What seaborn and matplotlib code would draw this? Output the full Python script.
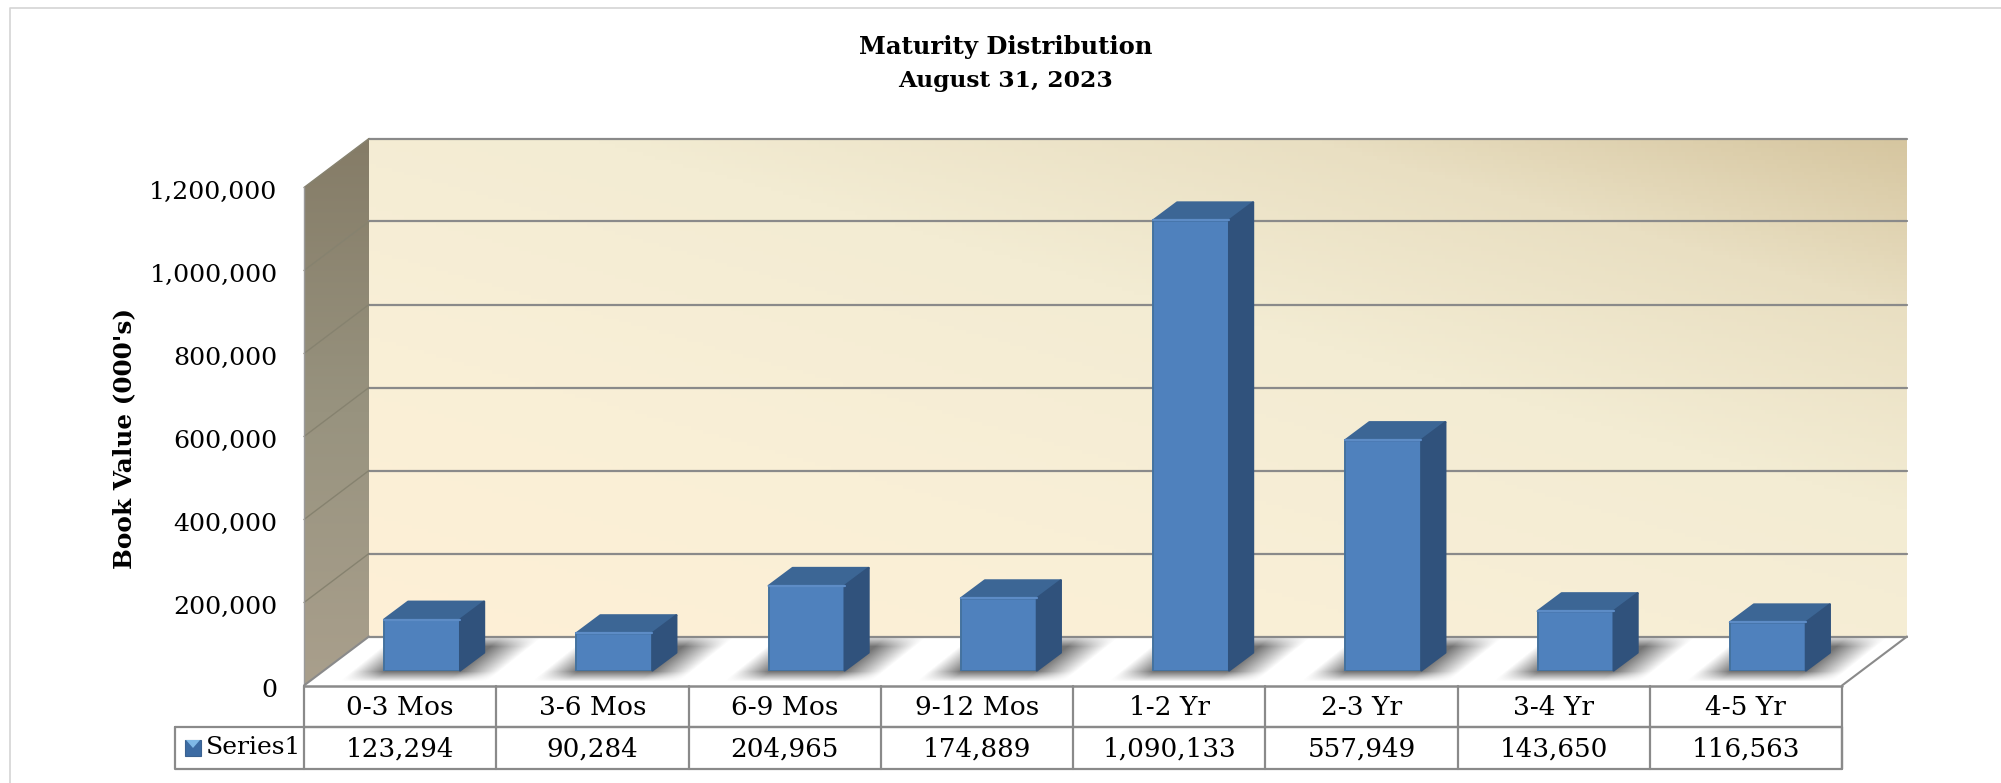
import numpy as np
import seaborn as sns
import matplotlib.pyplot as plt
from matplotlib.colors import LinearSegmentedColormap
from matplotlib.patches import Polygon, Rectangle
from matplotlib.transforms import ScaledTranslation

categories = ["0-3 Mos", "3-6 Mos", "6-9 Mos", "9-12 Mos", "1-2 Yr", "2-3 Yr", "3-4 Yr", "4-5 Yr"]
book_values = [123294, 90284, 204965, 174889, 1090133, 557949, 143650, 116563]
value_labels = ["123,294", "90,284", "204,965", "174,889", "1,090,133", "557,949", "143,650", "116,563"]
y_ticks = [0, 200000, 400000, 600000, 800000, 1000000, 1200000]
series_name = "Series1"

W, H = 2001, 783
LEFT, RIGHT, BASE, TOP = 304, 1842, 685.5, 187.5  # front plane of the chart box
DEPTH_X, DEPTH_Y = 65, 49                         # how far the back wall sits behind it
BAR_DX, BAR_DY = 22, 15                           # bars stand a bit inside the floor
SIDE_X, SIDE_Y = 24, 18                           # depth of a single bar
ROW1, ROW2 = 727, 769
LEGEND_LEFT = 175
GREY = "#8a8a8a"

sns.set_theme(style="white")
plt.rcParams["font.family"] = ["DejaVu Serif"]


def px_axes(fig, x0, y0, x1, y1, **kw):
    return fig.add_axes([x0 / W, 1 - y1 / H, (x1 - x0) / W, (y1 - y0) / H], **kw)


fig = plt.figure(figsize=(W / 100, H / 100), dpi=100, facecolor="white")

# pixel canvas for walls, floor, table
bg = fig.add_axes([0, 0, 1, 1], zorder=0)
bg.set_xlim(0, W)
bg.set_ylim(H, 0)
bg.axis("off")

xx, yy = np.meshgrid(np.arange(LEFT, W, 4.0), np.arange(100, 700, 4.0))
extent = (xx.min(), xx.max(), yy.max(), yy.min())

wall_cmap = LinearSegmentedColormap.from_list(
    "wall", [(0, "#feefd6"), (0.32, "#f9efd7"), (0.6, "#f3ecd3"), (0.82, "#e9dfc2"), (1, "#d6c6a0")])
t = ((xx - LEFT - DEPTH_X) / (RIGHT - LEFT) * 0.7 + (BASE - DEPTH_Y - yy) / (BASE - TOP) * 0.8) / 1.5
im = bg.imshow(np.clip(t, 0, 1), cmap=wall_cmap, vmin=0, vmax=1, extent=extent, aspect="auto", zorder=1)
back = Polygon([(LEFT + DEPTH_X, TOP - DEPTH_Y), (RIGHT + DEPTH_X, TOP - DEPTH_Y),
                (RIGHT + DEPTH_X, BASE - DEPTH_Y), (LEFT + DEPTH_X, BASE - DEPTH_Y)],
               transform=bg.transData, fill=False, lw=0)
bg.add_patch(back)
im.set_clip_path(back)

side_cmap = LinearSegmentedColormap.from_list("side", ["#a99f8c", "#98937f", "#857c67"])
xs, ys = np.meshgrid(np.arange(LEFT, LEFT + DEPTH_X + 4, 2.0), np.arange(130, 700, 4.0))
t2 = (BASE - ys) / (BASE - TOP + DEPTH_Y)
im2 = bg.imshow(np.clip(t2, 0, 1), cmap=side_cmap, vmin=0, vmax=1,
                extent=(LEFT, LEFT + DEPTH_X + 2, ys.max(), ys.min()), aspect="auto", zorder=1)
side = Polygon([(LEFT, TOP), (LEFT + DEPTH_X, TOP - DEPTH_Y), (LEFT + DEPTH_X, BASE - DEPTH_Y), (LEFT, BASE)],
               transform=bg.transData, fill=False, lw=0)
bg.add_patch(side)
im2.set_clip_path(side)
bg.set_xlim(0, W)
bg.set_ylim(H, 0)

floor_pts = [(LEFT, BASE), (LEFT + DEPTH_X, BASE - DEPTH_Y), (RIGHT + DEPTH_X, BASE - DEPTH_Y), (RIGHT, BASE)]
floor = Polygon(floor_pts, closed=True, facecolor="white", edgecolor="none", zorder=2)
bg.add_patch(floor)

# axes with the tick labels, grid and box lines, sits on the front plane
frame = px_axes(fig, LEFT, TOP, RIGHT, BASE, zorder=1)
frame.patch.set_alpha(0)
frame.set_xlim(0, len(categories))
frame.set_ylim(0, max(y_ticks))
for s in frame.spines.values():
    s.set_visible(False)
frame.set_xticks([])
frame.set_yticks(y_ticks)
frame.set_yticklabels([f"{v:,}" for v in y_ticks], fontsize=18.2, color="black")
frame.tick_params(axis="y", length=0, pad=19)
for lbl in frame.get_yticklabels():
    lbl.set_transform(lbl.get_transform() + ScaledTranslation(0, -2.5 / 100, fig.dpi_scale_trans))
frame.set_ylabel("Book Value (000's)", fontsize=17.8, fontweight="bold", color="black")
frame.yaxis.set_label_coords((136 - LEFT) / (RIGHT - LEFT), 0.497)

dx = DEPTH_X / (RIGHT - LEFT) * len(categories)
dv = DEPTH_Y / (BASE - TOP) * max(y_ticks)
n = len(categories)
for v in y_ticks:
    frame.plot([dx, n + dx], [v + dv, v + dv], color=GREY, lw=1.6, clip_on=False, zorder=3)
    if v > 0:
        frame.plot([0, dx], [v, v + dv], color="#86826f", lw=1.0, clip_on=False, zorder=3)
frame.plot([0, 0], [0, max(y_ticks)], color="#9a9a9a", lw=1.0, clip_on=False, zorder=3)
frame.plot([0, dx], [0, dv], color=GREY, lw=1.5, clip_on=False, zorder=3)
frame.plot([n, n + dx], [0, dv], color=GREY, lw=1.5, clip_on=False, zorder=3)
frame.plot([0, n], [0, 0], color=GREY, lw=1.8, clip_on=False, zorder=3)

# bars
bars = px_axes(fig, LEFT + BAR_DX, TOP - BAR_DY + 2.5, RIGHT + BAR_DX, BASE - BAR_DY, zorder=2)
sns.barplot(x=categories, y=book_values, ax=bars, width=0.395, color="#4f81bd", saturation=1,
            edgecolor="#44729f", linewidth=1.4, zorder=5)
bars.patch.set_alpha(0)
bars.set_xlim(-0.5, n - 0.5)
bars.set_ylim(0, max(y_ticks))
bars.axis("off")

sx = SIDE_X / (RIGHT - LEFT) * n
sv = SIDE_Y / (BASE - TOP) * max(y_ticks)
gx, gy = np.meshgrid(np.arange(LEFT, RIGHT + DEPTH_X), np.arange(BASE - DEPTH_Y, BASE))
shadow = np.zeros(gx.shape)
floor_y = BASE - BAR_DY
for p in list(bars.patches):
    x0, x1, h = p.get_x(), p.get_x() + p.get_width(), p.get_height()
    bars.add_patch(Polygon([(x0, h), (x0 + sx, h + sv), (x1 + sx, h + sv), (x1, h)],
                           facecolor="#3c6695", edgecolor="#3c6695", lw=1.6, joinstyle="round",
                           clip_on=False, zorder=5))
    bars.add_patch(Polygon([(x1, 0), (x1 + sx, sv), (x1 + sx, h + sv), (x1, h)],
                           facecolor="#30527c", edgecolor="#30527c", lw=1.6, joinstyle="round",
                           clip_on=False, zorder=5))
    bars.plot([x0, x1], [h, h], color="#5d8cc6", lw=1.6, zorder=6, clip_on=False)
    # soft shadow on the floor
    px0 = bars.transData.transform((x0, 0))[0]
    px1 = bars.transData.transform((x1, 0))[0]
    sheared = gx + (gy - floor_y) * 1.25
    a = (np.clip((sheared - px0 + 32) / 34, 0, 1) * np.clip((px1 + 40 - sheared) / 40, 0, 1)
         * np.clip((gy - (floor_y - 36)) / 12, 0, 1) * np.clip((floor_y + 11 - gy) / 10, 0, 1))
    shadow = np.maximum(shadow, a)
rgba = np.zeros(shadow.shape + (4,))
rgba[..., :3] = 0.3
rgba[..., 3] = shadow * 0.78
sh = bg.imshow(rgba, extent=(LEFT, RIGHT + DEPTH_X, BASE, BASE - DEPTH_Y), aspect="auto", zorder=3)
sh.set_clip_path(floor)
bg.set_xlim(0, W)
bg.set_ylim(H, 0)

# data table under the chart
col_w = (RIGHT - LEFT) / n
line = dict(color=GREY, lw=1.6, zorder=4)
bg.plot([LEFT, RIGHT], [ROW1, ROW1], **line)
bg.plot([LEGEND_LEFT, RIGHT, RIGHT, LEGEND_LEFT, LEGEND_LEFT], [ROW1, ROW1, ROW2, ROW2, ROW1], **line)
for i in range(n + 1):
    bg.plot([LEFT + i * col_w] * 2, [BASE, ROW2], **line)
for i, (cat, lab) in enumerate(zip(categories, value_labels)):
    cx = LEFT + (i + 0.5) * col_w
    bg.text(cx, (BASE + ROW1) / 2 + 1, cat, ha="center", va="center", fontsize=19, color="black", zorder=5)
    bg.text(cx, (ROW1 + ROW2) / 2 + 1, lab, ha="center", va="center", fontsize=18.8, color="black", zorder=5)

bg.add_patch(Rectangle((185, 740), 16, 16, facecolor="#3c6ba3", edgecolor="#3a6190", lw=0.8, zorder=5))
bg.add_patch(Polygon([(186, 740), (200, 740), (193, 748)], facecolor="#7fb8e6", edgecolor="none", zorder=6))
bg.text(206, (ROW1 + ROW2) / 2, series_name, ha="left", va="center", fontsize=18, color="black", zorder=5)

# titles
fig.text(1006 / W, 1 - 47 / H, "Maturity Distribution", ha="center", va="center",
         fontsize=17.5, fontweight="bold", color="black")
fig.text(1006 / W, 1 - 81 / H, "August 31, 2023", ha="center", va="center",
         fontsize=16.8, fontweight="bold", color="black")

# thin card border top and left
bg.plot([W, 10, 10], [8, 8, H], color="#d4d4d4", lw=1.2, zorder=1)

fig.savefig("out.png", dpi=100)
